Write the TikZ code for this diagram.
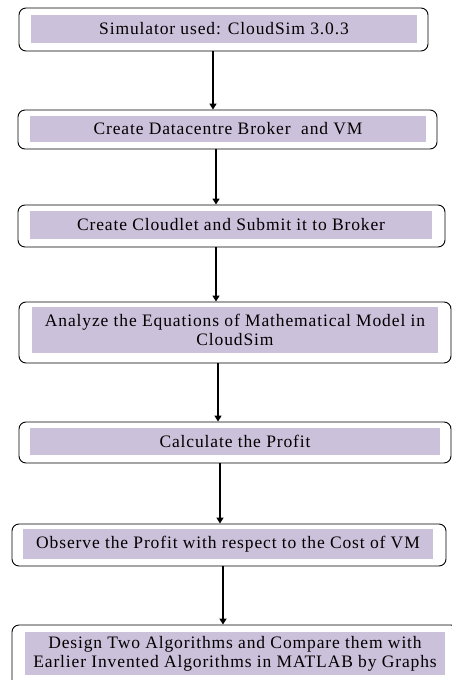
\documentclass[tikz,border=0pt]{standalone}
\usepackage{fontspec}
\setmainfont{Liberation Serif}[LetterSpace=5]
\usetikzlibrary{arrows.meta}
\definecolor{lavender}{RGB}{204,193,218}

\begin{document}
\begin{tikzpicture}[x=1pt, y=-1pt, >={Triangle[width=7pt,length=6pt]},
  outer/.style={draw, rounded corners=7pt, line width=0.9pt, inner sep=0pt},
  inner/.style={fill=lavender, inner sep=0pt, align=center, font=\fontsize{17.5}{19}\selectfont},
  flow/.style={->, line width=1.8pt}]
\clip (0,0) rectangle (452,680);
\fill[white] (0,0) rectangle (452,680);

\node[outer, minimum width=409pt, minimum height=43pt] (simO) at (223.5,29.5) {};
\node[inner, minimum width=386pt, minimum height=28pt] (sim) at (224,29) {Simulator used: CloudSim 3.0.3};

\node[outer, minimum width=419pt, minimum height=39pt] (brokerO) at (227.5,129.5) {};
\node[inner, minimum width=396pt, minimum height=26pt] (broker) at (228,129) {Create Datacentre Broker~ and VM};

\node[outer, minimum width=427pt, minimum height=42pt] (cloudletO) at (231.5,226) {};
\node[inner, minimum width=402pt, minimum height=28pt] (cloudlet) at (231,225) {Create Cloudlet and Submit it to Broker};

\node[outer, minimum width=432pt, minimum height=61pt] (modelO) at (235,332.5) {};
\node[inner, minimum width=406pt, minimum height=46pt] (model) at (235,330) {Analyze the Equations of Mathematical Model in\\CloudSim};

\node[outer, minimum width=432pt, minimum height=41pt] (profitO) at (235,442.5) {};
\node[inner, minimum width=410pt, minimum height=27pt] (profit) at (235,441.5) {Calculate the Profit};

\node[outer, minimum width=434pt, minimum height=42pt] (costO) at (229,545) {};
\node[inner, minimum width=410pt, minimum height=30pt] (cost) at (228,544) {Observe the Profit with respect to the Cost of VM};

\node[outer, minimum width=446pt, minimum height=63pt] (designO) at (235,656.5) {};
\node[inner, minimum width=420pt, minimum height=43pt] (design) at (235,653.5) {Design Two Algorithms and Compare them with\\Earlier Invented Algorithms in MATLAB by Graphs};

\draw[flow] ([xshift=-10.5pt]simO.south) -- ([xshift=-14.5pt]brokerO.north);
\draw[flow] ([xshift=-11.5pt]brokerO.south) -- ([xshift=-15.5pt]cloudletO.north);
\draw[flow] ([xshift=-15.5pt]cloudletO.south) -- ([xshift=-19pt]modelO.north);
\draw[flow] ([xshift=-17pt]modelO.south) -- ([xshift=-17pt]profitO.north);
\draw[flow] ([xshift=-15pt]profitO.south) -- ([xshift=-9pt]costO.north);
\draw[flow] ([xshift=-6pt]costO.south) -- ([xshift=-12pt]designO.north);
\end{tikzpicture}
\end{document}
